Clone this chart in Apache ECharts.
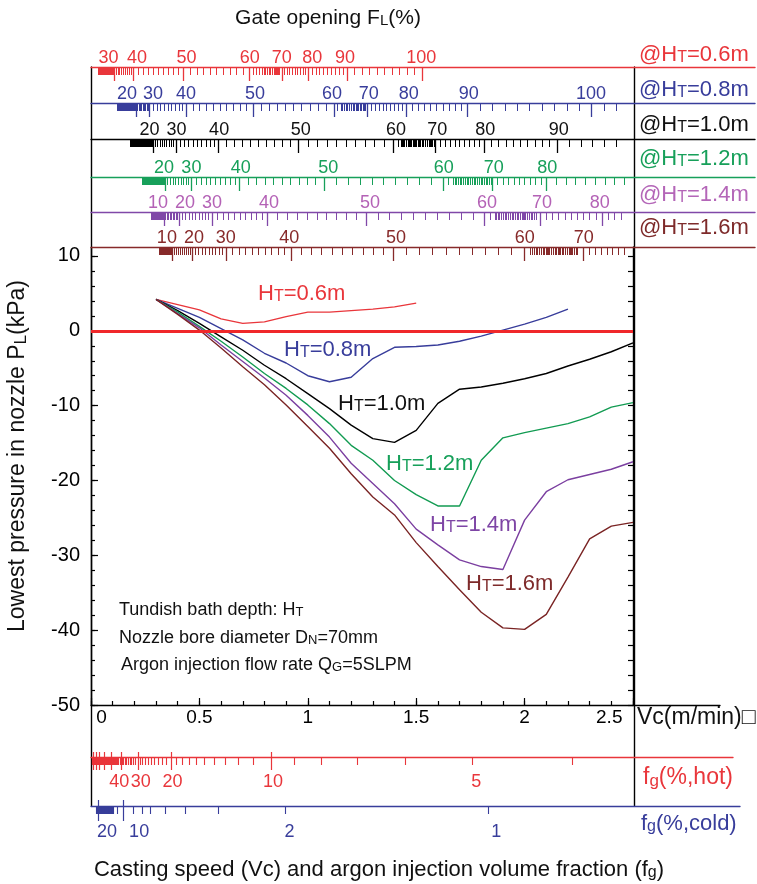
<!DOCTYPE html>
<html><head><meta charset="utf-8">
<script src="https://cdn.jsdelivr.net/npm/echarts@6/dist/echarts.min.js"></script>
<style>html,body{margin:0;padding:0;background:#fff}#c{width:757px;height:884px}</style>
</head><body><div id="c"></div>
<script>
// ---------------- DATA ----------------
const VC = [0.3,0.4,0.5,0.6,0.7,0.8,0.9,1.0,1.1,1.2,1.3,1.4,1.5,1.6,1.7,1.8,1.9,2.0,2.1,2.2,2.3,2.4,2.5];
const P_HT06 = [4.2,3.5,2.8,1.6,1.0,1.2,1.9,2.5,2.5,2.7,2.9,3.2,3.7];
const P_HT08 = [4.2,3.0,1.8,0.3,-1.2,-3.0,-4.3,-6.0,-6.8,-6.2,-3.7,-2.2,-2.1,-1.9,-1.4,-0.7,0.1,0.9,1.8,2.9];
const P_HT10 = [4.2,2.7,1.0,-0.8,-2.6,-4.6,-6.4,-8.4,-10.4,-12.6,-14.4,-14.9,-13.3,-9.7,-7.8,-7.5,-7.0,-6.4,-5.7,-4.7,-3.8,-2.8,-1.6];
const P_HT12 = [4.2,2.5,0.6,-1.4,-3.5,-5.7,-7.7,-9.9,-12.4,-15.3,-17.3,-20.0,-21.9,-23.4,-23.4,-17.3,-14.3,-13.6,-13.0,-12.4,-11.5,-10.2,-9.6];
const P_HT14 = [4.2,2.3,0.4,-1.9,-4.1,-6.3,-8.6,-11.3,-14.2,-17.7,-20.4,-23.1,-26.5,-28.6,-30.6,-31.5,-31.9,-25.3,-21.5,-19.9,-19.2,-18.5,-17.5];
const P_HT16 = [4.2,2.2,0.1,-2.3,-4.8,-7.2,-9.9,-12.8,-15.7,-19.1,-22.2,-24.6,-28.3,-31.5,-34.6,-37.6,-39.7,-39.9,-37.9,-32.9,-27.8,-26.1,-25.6];
const HT_NAMES = ['0.6','0.8','1.0','1.2','1.4','1.6'];

// axis tick labels
const P_TICKS = [-50,-40,-30,-20,-10,0,10];
const VC_LABELS = [0,0.5,1,1.5,2,2.5];

// Gate opening FL(%) scales: label values, Vc of their ticks, Vc of their labels
const FL_06 = [30,40,50,60,70,80,90,100];
const FL_06_TICK = [0.106,0.193,0.427,0.732,0.880,1.001,1.181,1.527];
const FL_06_LAB  = [0.081,0.212,0.440,0.732,0.880,1.020,1.172,1.523];
const FL_08 = [20,30,40,50,60,70,80,90,100];
const FL_08_TICK = [0.208,0.270,0.440,0.748,1.121,1.276,1.452,1.737,2.309];
const FL_08_LAB  = [0.166,0.286,0.438,0.757,1.112,1.281,1.466,1.742,2.306];
const FL_10 = [20,30,40,50,60,70,80,90];
const FL_10_TICK = [0.287,0.391,0.589,0.958,1.396,1.589,1.812,2.149];
const FL_10_LAB  = [0.270,0.394,0.591,0.968,1.407,1.597,1.818,2.158];
const FL_12 = [20,30,40,50,60,70,80];
const FL_12_TICK = [0.341,0.463,0.686,1.075,1.625,1.850,2.100];
const FL_12_LAB  = [0.337,0.463,0.691,1.094,1.627,1.858,2.104];
const FL_14 = [10,20,30,40,50,60,70,80];
const FL_14_TICK = [0.337,0.406,0.558,0.815,1.268,1.816,2.070,2.358];
const FL_14_LAB  = [0.309,0.434,0.558,0.821,1.287,1.827,2.080,2.347];
const FL_16 = [10,20,30,40,50,60,70];
const FL_16_TICK = [0.374,0.465,0.622,0.922,1.396,1.997,2.270];
const FL_16_LAB  = [0.350,0.475,0.622,0.914,1.407,2.001,2.273];
// dense tick blocks (Vc ranges)
const FL_BLOCK = [[0.032,0.106],[0.122,0.208],[0.180,0.287],[0.238,0.341],[0.279,0.337],[0.314,0.374]];
const FL_DENSE = [[0.789,0.872],[1.152,1.268],[1.430,1.589],[1.670,1.846],[1.869,2.058],[2.036,2.240]];
const FL_END = [1.527,2.47,2.47,2.47,2.47,2.47];
const FL_END_STEP = [null,null,0.055,0.045,null,null];

// argon volume fraction scales
const K_HOT = 0.0925;                 // Vc * fg/(100-fg)
const HOT_LABELS = [40,30,20,10,5];
const HOT_LABEL_VC = [0.130,0.229,0.376,0.840,1.777];
const HOT_FG_MIN = 4, HOT_FG_MAX = 95;
const COLD_LABELS = [20,10,2,1];
const COLD_LABEL_VC = [0.074,0.222,0.916,1.869];
const COLD_LONG_VC = [0.034,0.149];
const COLD_TICK_VC = [0.084,0.103,0.121,0.1935,0.2345,0.2755,0.3415,0.434,0.5875,0.895,1.833];
const COLD_BLOCK = [0.026,0.103];

// ---------------- LAYOUT / STYLE ----------------
const FONT = '"Liberation Sans", Arial, Helvetica, sans-serif';
const L = 91, R = 633, TOP = 247, BOT = 705;
const W = R - L, H = BOT - TOP;
const VC_MAX = 2.5, P_MIN = -50, P_MAX = 11.2;
const PXV = W / VC_MAX;
const extMax = right => (right - L) / PXV;
const TOP_LINE_Y = [67,103,139,177,212,247];
const HOT_Y = 757, COLD_Y = 806;

const C_LINE = ['#e9363b','#383d9b','#000000','#129b52','#7b3fa0','#7a2424'];
const C_AXIS = ['#e9363b','#383d9b','#000000','#17a05a','#8048a8','#872a2a'];
const C_LAB  = ['#e9363b','#383d9b','#111111','#17a05a','#b462b6','#872a2a'];
const C_LEG  = ['#e9363b','#383d9b','#111111','#17a05a','#b466b8','#7e2a2a'];
const C_CURVELAB = ['#e9363b','#383d9b','#111111','#17a05a','#7e45a5','#7e2a2a'];

const FL_SETS = [
  [FL_06, FL_06_TICK, FL_06_LAB],[FL_08, FL_08_TICK, FL_08_LAB],[FL_10, FL_10_TICK, FL_10_LAB],
  [FL_12, FL_12_TICK, FL_12_LAB],[FL_14, FL_14_TICK, FL_14_LAB],[FL_16, FL_16_TICK, FL_16_LAB]];
const P_SETS = [P_HT06,P_HT08,P_HT10,P_HT12,P_HT14,P_HT16];

function minorTicks(fl, tick, block, dense, end, endStep) {
  const out = [];
  for (let v = block[0]; v < block[1]; v += 0.0035) out.push(v);
  for (let k = 0; k < fl.length - 1; k++) {
    const n = fl[k+1] - fl[k];
    for (let j = 1; j < n; j++) out.push(tick[k] + (tick[k+1] - tick[k]) * j / n);
  }
  const last = fl.length - 1;
  const step = endStep || (tick[last] - tick[last-1]) / (fl[last] - fl[last-1]);
  for (let v = tick[last] + step; v <= end; v += step) out.push(v);
  for (let v = dense[0]; v <= dense[1]; v += 0.008) out.push(v);
  return out;
}
function labelMap(vals, pos) {
  const m = {}; pos.forEach((p, i) => { m[p.toFixed(4)] = String(vals[i]); }); return m;
}
function axisBase(o) {
  return Object.assign({type:'value', min:0, max:VC_MAX, splitLine:{show:false}, axisPointer:{show:false}}, o);
}
function lineOpt(show, color, width) {
  return {show, onZero:false, lineStyle:{color:color||'#000', width:width||1.4}};
}

const grid = [
  {left:L, top:TOP, width:W, height:H},
  {left:L, top:TOP, width:755 - L, height:H},
  {left:L, top:TOP, width:733 - L, height:H},
  {left:L, top:TOP, width:740 - L, height:H},
  {left:R, top:TOP, width:720 - R, height:H},
  {left:L, top:TOP_LINE_Y[0], width:W + 1, height:COLD_Y - TOP_LINE_Y[0]}
].map(g => Object.assign(g, {containLabel:false, outerBoundsMode:'none'}));

const xAxis = [], yAxis = [];
// Vc axis
const VC_MINOR = []; for (let i = 0; i <= 25; i++) VC_MINOR.push(i / 10);
xAxis.push(axisBase({gridIndex:0, position:'bottom', axisLine:lineOpt(true,'#000',1.4),
  axisTick:{show:true, inside:true, length:7, customValues:VC_LABELS, lineStyle:{color:'#000', width:1.2}},
  axisLabel:{show:true, customValues:VC_LABELS, margin:3, fontSize:19, fontFamily:FONT, color:'#000',
    showMinLabel:true, showMaxLabel:true, alignMinLabel:'left', alignMaxLabel:'right',
    formatter: v => v === 0 ? ' 0' : (v === VC_MAX ? String(v) + '  ' : String(v))}}));
xAxis.push(axisBase({gridIndex:0, position:'bottom', axisLine:lineOpt(false),
  axisTick:{show:true, inside:true, length:4, customValues:VC_MINOR, lineStyle:{color:'#000', width:1.2}},
  axisLabel:{show:false}}));
xAxis.push(axisBase({gridIndex:4, position:'bottom', min:0, max:1, axisLine:lineOpt(true,'#000',1.4),
  axisTick:{show:false}, axisLabel:{show:false}}));

// top gate-opening axes
const TOP_MAX = extMax(755);
FL_SETS.forEach(([fl, tick, lab], i) => {
  const map = labelMap(fl, lab);
  xAxis.push(axisBase({gridIndex:1, max:TOP_MAX, position:'top', offset:TOP - TOP_LINE_Y[i],
    axisLine:lineOpt(true, C_AXIS[i], 1.4),
    axisTick:{show:true, inside:true, length:14, customValues:tick, lineStyle:{color:C_AXIS[i], width:1.3}},
    axisLabel:{show:true, customValues:lab, margin:0, fontSize:18, fontFamily:FONT, color:C_LAB[i],
      showMinLabel:true, showMaxLabel:true, formatter: v => map[(+v).toFixed(4)] || ''}}));
  xAxis.push(axisBase({gridIndex:1, max:TOP_MAX, position:'top', offset:TOP - TOP_LINE_Y[i],
    axisLine:lineOpt(false),
    axisTick:{show:true, inside:true, length:8,
      customValues:minorTicks(fl, tick, FL_BLOCK[i], FL_DENSE[i], FL_END[i], FL_END_STEP[i]),
      lineStyle:{color:C_AXIS[i], width:1}},
    axisLabel:{show:false}}));
});

// hot fg axis
const hotVc = f => K_HOT * (100 - f) / f;
const HOT_LONG = [], HOT_MINOR = [];
for (let f = HOT_FG_MIN; f <= HOT_FG_MAX; f++) (f % 10 === 0 ? HOT_LONG : HOT_MINOR).push(hotVc(f));
const hotMap = labelMap(HOT_LABELS, HOT_LABEL_VC);
const HOT_MAX = extMax(733);
xAxis.push(axisBase({gridIndex:2, max:HOT_MAX, position:'bottom', offset:HOT_Y - BOT,
  axisLine:lineOpt(true, C_AXIS[0], 1.4),
  axisTick:{show:true, inside:false, length:13, customValues:HOT_LONG, lineStyle:{color:C_AXIS[0], width:1.2}},
  axisLabel:{show:true, customValues:HOT_LABEL_VC, margin:16, fontSize:18, fontFamily:FONT, color:C_LAB[0],
    showMinLabel:true, showMaxLabel:true, formatter: v => hotMap[(+v).toFixed(4)] || ''}}));
xAxis.push(axisBase({gridIndex:2, max:HOT_MAX, position:'bottom', offset:HOT_Y - BOT, axisLine:lineOpt(false),
  axisTick:{show:true, inside:true, length:5, customValues:HOT_LONG, lineStyle:{color:C_AXIS[0], width:1.2}},
  axisLabel:{show:false}}));
xAxis.push(axisBase({gridIndex:2, max:HOT_MAX, position:'bottom', offset:HOT_Y - BOT, axisLine:lineOpt(false),
  axisTick:{show:true, inside:false, length:8, customValues:HOT_MINOR, lineStyle:{color:C_AXIS[0], width:1.1}},
  axisLabel:{show:false}}));

// cold fg axis
const COLD_MINOR = COLD_TICK_VC.slice();
for (let v = COLD_BLOCK[0]; v < COLD_BLOCK[1]; v += 0.0035) COLD_MINOR.push(v);
const coldMap = labelMap(COLD_LABELS, COLD_LABEL_VC);
const COLD_MAX = extMax(740);
xAxis.push(axisBase({gridIndex:3, max:COLD_MAX, position:'bottom', offset:COLD_Y - BOT,
  axisLine:lineOpt(true, C_AXIS[1], 1.4),
  axisTick:{show:true, inside:false, length:15, customValues:COLD_LONG_VC, lineStyle:{color:C_AXIS[1], width:1.2}},
  axisLabel:{show:true, customValues:COLD_LABEL_VC, margin:17, fontSize:18, fontFamily:FONT, color:C_LAB[1],
    showMinLabel:true, showMaxLabel:true, formatter: v => coldMap[(+v).toFixed(4)] || ''}}));
xAxis.push(axisBase({gridIndex:3, max:COLD_MAX, position:'bottom', offset:COLD_Y - BOT, axisLine:lineOpt(false),
  axisTick:{show:true, inside:true, length:6, customValues:COLD_LONG_VC, lineStyle:{color:C_AXIS[1], width:1.2}},
  axisLabel:{show:false}}));
xAxis.push(axisBase({gridIndex:3, max:COLD_MAX, position:'bottom', offset:COLD_Y - BOT, axisLine:lineOpt(false),
  axisTick:{show:true, inside:false, length:8, customValues:COLD_MINOR, lineStyle:{color:C_AXIS[1], width:1.1}},
  axisLabel:{show:false}}));

// frame grid x (hidden)
xAxis.push(axisBase({gridIndex:5, show:false, min:0, max:1}));

// y axes
const P_MINOR = []; for (let p = P_MIN; p <= 10; p += 2) P_MINOR.push(p);
yAxis.push({gridIndex:0, type:'value', min:P_MIN, max:P_MAX, position:'left', splitLine:{show:false},
  axisLine:lineOpt(true,'#000',1.4),
  axisTick:{show:true, inside:true, length:7, customValues:P_TICKS, lineStyle:{color:'#000', width:1.2}},
  axisLabel:{show:true, customValues:P_TICKS, margin:11, fontSize:20, fontFamily:FONT, color:'#000',
    showMinLabel:true, showMaxLabel:true}});
yAxis.push({gridIndex:0, type:'value', min:P_MIN, max:P_MAX, position:'left', splitLine:{show:false},
  axisLine:lineOpt(false), axisLabel:{show:false},
  axisTick:{show:true, inside:true, length:4, customValues:P_MINOR, lineStyle:{color:'#000', width:1.2}}});
yAxis.push({gridIndex:0, type:'value', min:P_MIN, max:P_MAX, position:'right', splitLine:{show:false},
  axisLine:lineOpt(true,'#000',1.4), axisLabel:{show:false},
  axisTick:{show:true, inside:true, length:5, customValues:P_MINOR, lineStyle:{color:'#000', width:1.2}}});
[1,2,3,4].forEach(g => yAxis.push({gridIndex:g, type:'value', show:false, min:0, max:1}));
yAxis.push({gridIndex:5, type:'value', min:0, max:1, position:'left', splitLine:{show:false},
  axisLine:lineOpt(true,'#000',1.4), axisTick:{show:false}, axisLabel:{show:false}});
yAxis.push({gridIndex:5, type:'value', min:0, max:1, position:'right', splitLine:{show:false},
  axisLine:lineOpt(true,'#000',1.4), axisTick:{show:false}, axisLabel:{show:false}});

// series
const series = P_SETS.map((p, i) => ({
  type:'line', name:'HT=' + HT_NAMES[i] + 'm', xAxisIndex:0, yAxisIndex:0,
  data: p.map((v, k) => [VC[k], v]), symbol:'none', silent:true,
  lineStyle:{color:C_LINE[i], width:1.4}, z:3
}));
series.push({type:'line', xAxisIndex:0, yAxisIndex:0, data:[], silent:true, z:5,
  markLine:{silent:true, symbol:'none', label:{show:false}, animation:false,
    lineStyle:{color:'#f0282a', width:3.2, type:'solid'}, data:[{yAxis:0}]}});

// ---------------- TEXT ----------------
function rich(parts, size, color) {
  const text = parts.map(([s, sub]) => '{' + (sub ? 's' : 'n') + '|' + s + '}').join('');
  return {text, fontSize:size, fontFamily:FONT, fill:color,
    rich:{n:{fontSize:size, fontFamily:FONT, fill:color},
          s:{fontSize:Math.round(size*0.72), fontFamily:FONT, fill:color, verticalAlign:'bottom'}}};
}
function txt(x, y, parts, size, color, align, rot) {
  return {type:'text', x, y, z:60, rotation:rot || 0,
    style:Object.assign({align:align || 'left', verticalAlign:'middle'}, rich(parts, size, color))};
}
const graphic = [];
graphic.push(txt(328, 18, [['Gate opening F',0],['L',1],['(%)',0]], 21, '#111', 'center'));
graphic.push(txt(18, 456, [['Lowest pressure in nozzle P',0],['L',1],['(kPa)',0]], 23, '#111', 'center', Math.PI/2));
graphic.push(txt(379, 870, [['Casting speed (Vc) and argon injection volume fraction (f',0],['g',1],[')',0]], 22, '#111', 'center'));
const LEG_Y = [55,90,125,159,195,228];
HT_NAMES.forEach((n, i) => graphic.push(txt(639, LEG_Y[i], [['@H',0],['T',1],['=' + n + 'm',0]], 22, C_LEG[i])));
const CL_POS = [[258,294],[284,350],[338,404],[386,464],[430,525],[466,584]];
HT_NAMES.forEach((n, i) => graphic.push(txt(CL_POS[i][0], CL_POS[i][1], [['H',0],['T',1],['=' + n + 'm',0]], 22, C_CURVELAB[i])));
graphic.push(txt(119, 610, [['Tundish bath depth: H',0],['T',1]], 18, '#111'));
graphic.push(txt(119, 638, [['Nozzle bore diameter D',0],['N',1],['=70mm',0]], 18, '#111'));
graphic.push(txt(121, 665, [['Argon injection flow rate Q',0],['G',1],['=5SLPM',0]], 18, '#111'));
graphic.push(txt(637, 718, [['Vc(m/min)\u25A1',0]], 23, '#111'));
graphic.push(txt(643, 778, [['f',0],['g',1],['(%,hot)',0]], 23, C_LAB[0]));
graphic.push(txt(641, 824, [['f',0],['g',1],['(%,cold)',0]], 22, C_LAB[1]));

const chart = echarts.init(document.getElementById('c'), null, {renderer:'canvas', width:757, height:884});
chart.setOption({
  backgroundColor:'#ffffff', animation:false,
  grid, xAxis, yAxis, series, graphic
});
</script></body></html>
